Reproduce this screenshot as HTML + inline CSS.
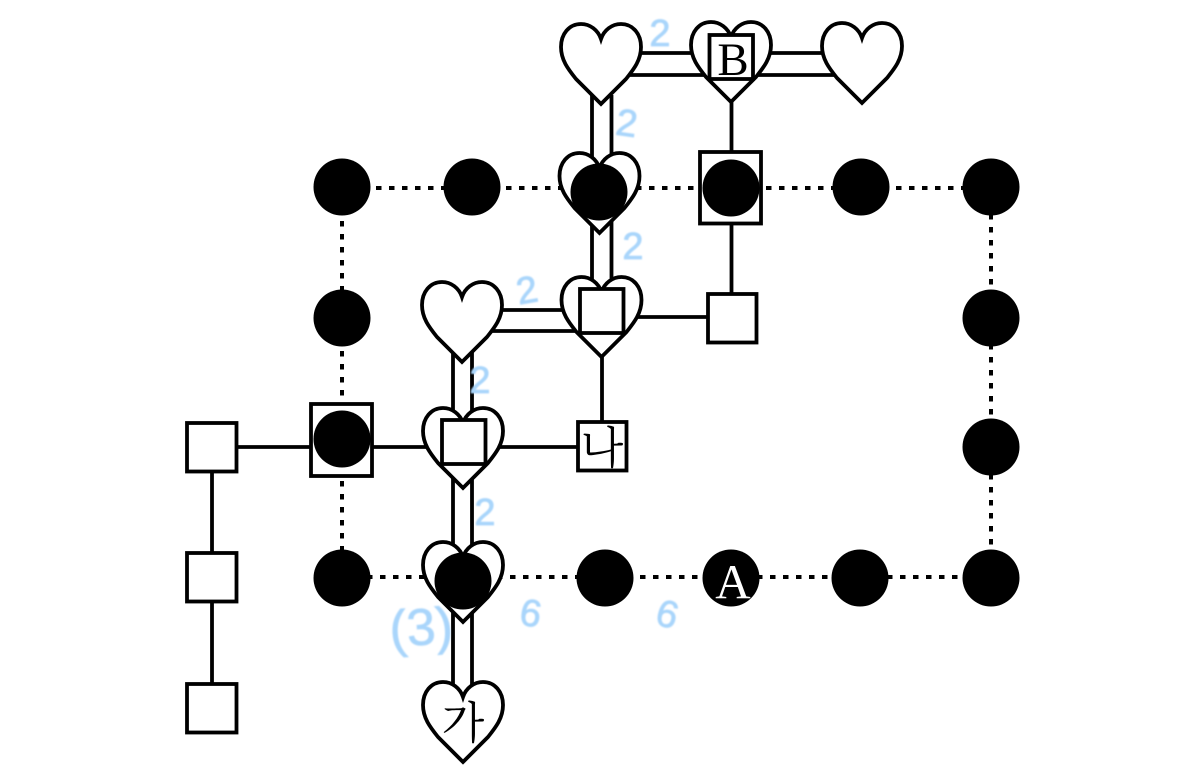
<!DOCTYPE html>
<html>
<head>
<meta charset="utf-8">
<style>
html,body{margin:0;padding:0;background:#fff;width:1194px;height:781px;overflow:hidden}
svg{display:block}
.h{fill:#fff;stroke:#000;stroke-width:3.8;stroke-linejoin:miter}
.s{fill:#fff;stroke:#000;stroke-width:3.8}
.l{stroke:#000;stroke-width:3.8;fill:none}
.d{stroke:#000;stroke-width:4;fill:none;stroke-dasharray:5.5 7.5}
.b{font-family:"Liberation Sans",sans-serif;fill:#a9d5fb;stroke:#a9d5fb;stroke-width:.8;font-size:38px;text-anchor:middle;filter:url(#bl)}
.k{font-family:"Noto Serif CJK SC","NanumGothic",sans-serif;font-size:44px;text-anchor:middle;fill:#000}
.t{font-family:"Liberation Serif",serif;text-anchor:middle}
</style>
</head>
<body>
<svg width="1194" height="781" viewBox="0 0 1194 781" xmlns="http://www.w3.org/2000/svg">
<defs>
<filter id="bl"><feGaussianBlur stdDeviation="0.9"/></filter>
<path id="heart" d="M0,15 C-3,6 -11,0 -20,0 C-32,0 -40,10 -40,23 C-40,36 -33,45 -25,55 L0,80 L25,55 C33,45 40,36 40,23 C40,10 32,0 20,0 C11,0 3,6 0,15Z"/>
</defs>

<!-- dotted outline -->
<path class="d" d="M337,188 H991"/>
<path class="d" d="M341,577 H991"/>
<path class="d" d="M342,182 V578"/>
<path class="d" d="M991,188 V578"/>

<!-- double lines -->
<path class="l" d="M640,53 H830 M630,75 H840"/>
<path class="l" d="M592,95 V285 M611.500,95 V285"/>
<path class="l" d="M490,310 H570 M480,331 H580"/>
<path class="l" d="M453,350 V695 M472,350 V695"/>

<!-- single lines -->
<path class="l" d="M731.500,100 V300"/>
<path class="l" d="M601,317 H707"/>
<path class="l" d="M602,350 V421"/>
<path class="l" d="M237,447 H577"/>
<path class="l" d="M212,472 V683"/>

<!-- squares -->
<rect class="s" x="187" y="423" width="49.500" height="48.500"/>
<rect class="s" x="187" y="553" width="49.500" height="48.500"/>
<rect class="s" x="187" y="684" width="49.500" height="48.500"/>
<rect class="s" x="708" y="294" width="48.500" height="48.500"/>
<rect class="s" x="578" y="422" width="48.500" height="48.500"/>
<rect class="s" x="311" y="404" width="61" height="72"/>
<rect class="s" x="700" y="152" width="61" height="71.500"/>

<!-- hearts -->
<use href="#heart" class="h" x="601" y="24"/>
<use href="#heart" class="h" x="731" y="22"/>
<use href="#heart" class="h" x="862" y="23"/>
<use href="#heart" class="h" x="599.500" y="153"/>
<use href="#heart" class="h" x="601.500" y="277"/>
<use href="#heart" class="h" x="462" y="282"/>
<use href="#heart" class="h" x="463" y="408"/>
<use href="#heart" class="h" x="463" y="542"/>
<use href="#heart" class="h" x="463" y="682"/>

<!-- inner squares -->
<rect class="s" x="709.500" y="35" width="43.500" height="44"/>
<rect class="s" x="580" y="289" width="43.500" height="44"/>
<rect class="s" x="442" y="420" width="43.500" height="44"/>

<!-- circles -->
<g fill="#000">
<circle cx="342" cy="187" r="28.500"/>
<circle cx="472" cy="187" r="28.500"/>
<circle cx="599" cy="192" r="28.500"/>
<circle cx="731" cy="188" r="28.500"/>
<circle cx="861" cy="187" r="28.500"/>
<circle cx="991" cy="187" r="28.500"/>
<circle cx="342" cy="318" r="28.500"/>
<circle cx="991" cy="318" r="28.500"/>
<circle cx="991" cy="447" r="28.500"/>
<circle cx="991" cy="578" r="28.500"/>
<circle cx="860" cy="578" r="28.500"/>
<circle cx="731" cy="578" r="28.500"/>
<circle cx="605" cy="578" r="28.500"/>
<circle cx="463" cy="581" r="28.500"/>
<circle cx="342" cy="439" r="28.500"/>
<circle cx="342" cy="578" r="28.500"/>
</g>

<!-- labels -->
<text class="t" x="733" y="75" font-size="47" fill="#000">B</text>
<text class="t" x="733" y="598" font-size="49" fill="#fff">A</text>
<text class="k" x="602" y="463">나</text>
<text class="k" x="463" y="738">가</text>

<!-- handwritten annotations -->
<text class="b" x="660" y="46">2</text>
<text class="b" x="627" y="136" transform="rotate(8 627 122)">2</text>
<text class="b" x="633" y="259">2</text>
<text class="b" x="527" y="303" transform="rotate(-10 527 290)">2</text>
<text class="b" x="480" y="393">2</text>
<text class="b" x="485" y="525">2</text>
<text class="b" x="531" y="626" transform="rotate(10 531 612)">6</text>
<text class="b" x="668" y="627" transform="rotate(16 668 612)">6</text>
<text class="b" x="421" y="645" style="font-size:52px;stroke-width:.6" transform="rotate(-4 420 627)">(3)</text>
</svg>
</body>
</html>
